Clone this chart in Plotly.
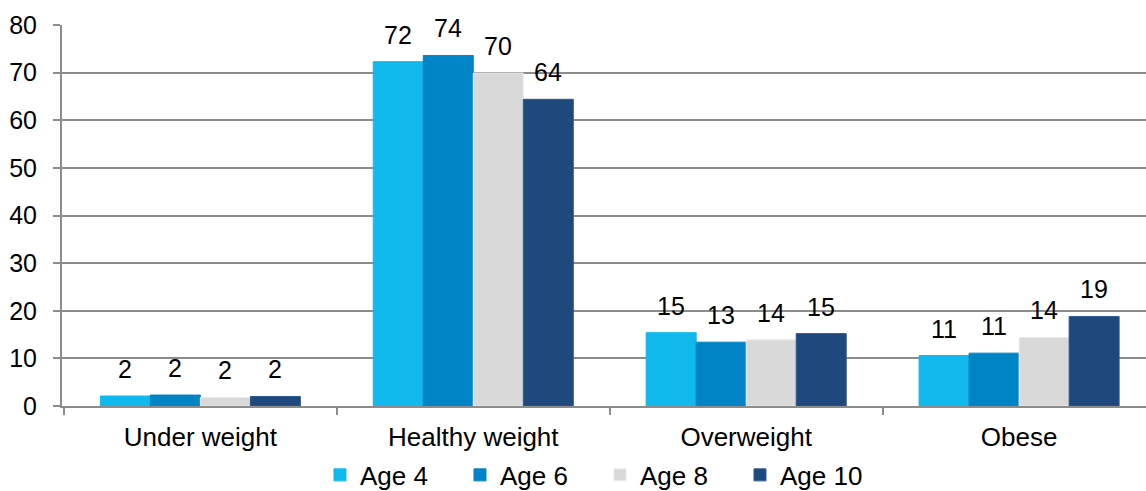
import plotly.graph_objects as go

categories = ["Under weight", "Healthy weight", "Overweight", "Obese"]
series_names = ["Age 4", "Age 6", "Age 8", "Age 10"]
age4 = [2.1, 72.3, 15.4, 10.6]
age6 = [2.3, 73.6, 13.4, 11.1]
age8 = [1.8, 69.9, 13.9, 14.4]
age10 = [2.0, 64.4, 15.2, 18.8]
series_values = [age4, age6, age8, age10]
y_ticks = [0, 10, 20, 30, 40, 50, 60, 70, 80]

colors = ["#11B8EC", "#0084C6", "#D9D9D9", "#1F487C"]
line_colors = ["#11B8EC", "#0084C6", "#EEECE1", "#2E5A8E"]

FONT = "Liberation Sans, Arial, sans-serif"
GRID = "#8C8C8C"
bargap = 0.267

x_pos = list(range(len(categories)))
boundaries = [i - 0.5 for i in x_pos]

fig = go.Figure()
for name, vals, c, lc in zip(series_names, series_values, colors, line_colors):
    fig.add_trace(go.Bar(
        x=x_pos, y=vals, name=name,
        marker=dict(color=c, line=dict(color=lc, width=1)),
    ))

# data labels placed above bars
n = len(series_names)
bw = (1 - bargap) / n
annotations = []
for j, vals in enumerate(series_values):
    for i, v in enumerate(vals):
        annotations.append(dict(
            x=i + (j - (n - 1) / 2) * bw, y=v, xref="x", yref="y",
            text=f"{round(v):d}", showarrow=False,
            yanchor="bottom", yshift=11,
            font=dict(family=FONT, size=25, color="#000000"),
        ))

fig.update_layout(
    width=1146, height=491,
    margin=dict(l=62, r=0, t=25, b=85, autoexpand=False),
    paper_bgcolor="white", plot_bgcolor="white",
    barmode="group", bargap=bargap, bargroupgap=0,
    font=dict(family=FONT, size=26, color="#000000"),
    showlegend=True,
    legend=dict(
        orientation="h", x=0.238, xanchor="left", y=-0.181, yanchor="middle",
        font=dict(family=FONT, size=26, color="#000000"),
        entrywidth=95, entrywidthmode="pixels",
        traceorder="normal",
    ),
    annotations=annotations,
)
fig.update_xaxes(
    type="linear", range=[-0.507, 3.465],
    tickvals=x_pos, ticktext=categories, ticks="",
    ticklabelstandoff=7,
    minor=dict(tickvals=boundaries, ticks="outside", ticklen=7,
               tickcolor=GRID, tickwidth=2, showgrid=False),
    showline=True, linecolor=GRID, linewidth=2,
    showgrid=False, zeroline=False,
    tickfont=dict(family=FONT, size=26, color="#000000"),
)
fig.update_yaxes(
    range=[0, 80], tickvals=y_ticks,
    showgrid=True, gridcolor=GRID, gridwidth=2,
    showline=True, linecolor=GRID, linewidth=2,
    ticks="outside", ticklen=7, tickcolor=GRID, tickwidth=2,
    zeroline=False, ticklabelstandoff=11,
    tickfont=dict(family=FONT, size=25, color="#000000"),
)

fig.write_html("out.html")
